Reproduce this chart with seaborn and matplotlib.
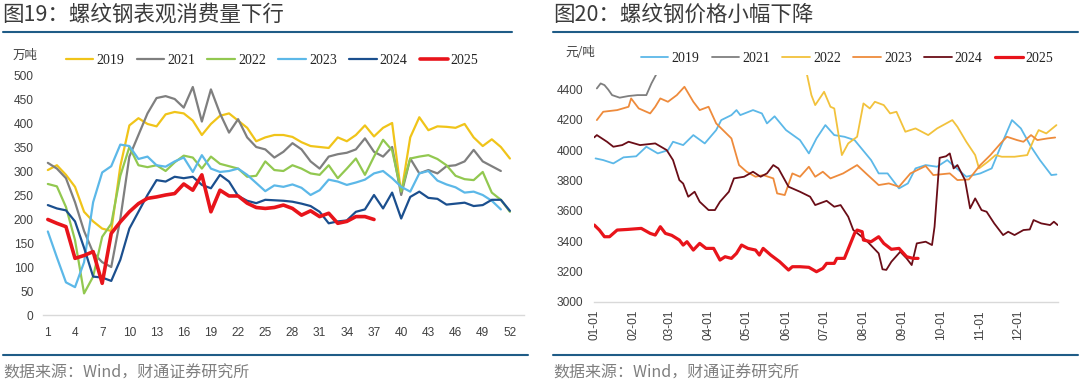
import pandas as pd
import matplotlib
matplotlib.use("Agg")
import matplotlib.pyplot as plt
import matplotlib.dates as mdates
from matplotlib.lines import Line2D
import seaborn as sns

# ---------------- 图19: 螺纹钢表观消费量 (万吨), by week ----------------
weeks = list(range(1, 53))
cons_2019 = [302, 312, 292, 267, 215, 195, 180, 175, 310, 395,
             410, 398, 393, 418, 423, 420, 405, 375, 398, 415,
             420, 405, 390, 362, 370, 375, 375, 371, 360, 352,
             350, 348, 370, 362, 375, 395, 372, 390, 400, 253,
             370, 412, 385, 393, 392, 390, 398, 370, 352, 366,
             350, 326]
cons_2021 = [317, 305, 285, 235, 175, 130, 110, 100, 200, 330,
             375, 420, 452, 456, 450, 432, 475, 403, 470, 420,
             380, 408, 370, 350, 345, 328, 340, 358, 345, 320,
             305, 330, 335, 338, 345, 368, 340, 330, 350, 250,
             326, 295, 302, 295, 310, 312, 320, 344, 320, 310,
             300]
cons_2022 = [273, 268, 225, 156, 45, 80, 163, 190, 290, 350,
             312, 308, 312, 300, 318, 332, 328, 305, 330, 315,
             310, 305, 288, 290, 320, 302, 300, 312, 305, 295,
             292, 312, 285, 305, 326, 292, 330, 365, 343, 257,
             326, 330, 333, 325, 312, 290, 283, 281, 298, 255,
             240, 215]
cons_2023 = [174, 120, 68, 58, 110, 235, 297, 310, 355, 352,
             325, 330, 312, 309, 320, 328, 298, 333, 305, 298,
             300, 305, 292, 275, 258, 270, 267, 272, 265, 250,
             260, 282, 278, 271, 276, 282, 295, 300, 285, 267,
             257, 295, 300, 280, 272, 266, 255, 257, 250, 238,
             220]
cons_2024 = [229, 222, 218, 195, 140, 80, 78, 71, 115, 180,
             215, 250, 281, 278, 288, 285, 288, 271, 264, 292,
             278, 248, 238, 233, 240, 239, 238, 236, 232, 227,
             215, 191, 195, 197, 215, 220, 250, 222, 255, 201,
             246, 257, 244, 242, 230, 232, 234, 227, 229, 240,
             240, 217]
cons_2025 = [199, 191, 184, 118, 124, 132, 66, 170, 194, 215,
             232, 243, 246, 250, 253, 273, 260, 292, 215, 260,
             248, 248, 233, 224, 222, 224, 229, 222, 208, 217,
             205, 212, 191, 195, 205, 205, 199]

# ---------------- 图20: 螺纹钢价格 (元/吨), day of year ----------------
days_2019 = [1, 7, 15, 23, 33, 41, 50, 58, 62, 70,
             78, 87, 96, 100, 108, 112, 115, 125, 132, 136,
             142, 151, 162, 169, 175, 182, 189, 197, 205, 218,
             224, 231, 240, 247, 253, 261, 270, 278, 284, 293,
             304, 313, 320, 329, 336, 344, 351, 360, 364]
price_2019 = [3946, 3935, 3913, 3953, 3960, 4023, 3979, 4000, 4056, 4034,
              4100, 4045, 4133, 4199, 4232, 4265, 4232, 4265, 4243, 4177,
              4224, 4133, 4067, 3979, 4078, 4166, 4100, 4089, 4067, 3935,
              3847, 3847, 3748, 3781, 3880, 3902, 3891, 3935, 3891, 3825,
              3847, 3880, 4023, 4199, 4144, 4023, 3935, 3836, 3840]
days_2021 = [2, 5, 8, 11, 14, 20, 27, 34, 41, 45, 50]
price_2021 = [4408, 4441, 4430, 4400, 4364, 4347, 4358, 4364, 4364, 4441, 4520]
days_2022 = [167, 171, 174, 181, 186, 189, 195, 200, 207, 212,
             217, 221, 228, 233, 238, 245, 253, 263, 270, 282,
             286, 293, 300, 303, 310, 316, 321, 331, 341, 346,
             350, 356, 364]
price_2022 = [4520, 4364, 4298, 4386, 4287, 4276, 3968, 4045, 4089, 4309,
              4276, 4320, 4298, 4243, 4254, 4122, 4144, 4100, 4144, 4199,
              4155, 4056, 3968, 3880, 3924, 3968, 3957, 3957, 3968, 4067,
              4133, 4111, 4166]
days_2023 = [2, 7, 18, 27, 29, 35, 44, 48, 52, 58,
             65, 71, 78, 83, 90, 96, 104, 108, 114, 120,
             127, 133, 141, 144, 150, 156, 162, 169, 174, 180,
             186, 196, 207, 214, 224, 232, 240, 249, 261, 267,
             280, 286, 295, 304, 312, 320, 325, 333, 338, 344,
             349, 357, 363]
price_2023 = [4199, 4254, 4265, 4287, 4342, 4276, 4243, 4287, 4342, 4320,
              4364, 4419, 4320, 4265, 4287, 4177, 4111, 4078, 3902, 3858,
              3825, 3836, 3814, 3715, 3704, 3847, 3825, 3891, 3825, 3858,
              3814, 3847, 3902, 3847, 3770, 3781, 3759, 3847, 3896, 3836,
              3847, 3803, 3807, 3902, 3968, 4045, 4089, 4067, 4056, 4100,
              4067, 4078, 4084]
days_2024 = [0, 2, 6, 10, 15, 22, 27, 36, 48, 57,
             62, 67, 70, 74, 79, 83, 90, 95, 99, 106,
             110, 118, 125, 131, 136, 141, 145, 153, 162, 170,
             174, 183, 189, 194, 200, 204, 214, 224, 227, 230,
             234, 241, 246, 250, 254, 261, 266, 268, 272, 277,
             280, 283, 286, 292, 296, 300, 305, 309, 315, 322,
             326, 331, 338, 343, 346, 352, 359, 362, 365]
price_2024 = [4085, 4100, 4078, 4056, 4023, 4034, 4056, 4034, 4045, 4001,
              3935, 3803, 3780, 3693, 3726, 3660, 3605, 3605, 3660, 3726,
              3814, 3825, 3858, 3825, 3847, 3902, 3880, 3759, 3726, 3693,
              3638, 3666, 3627, 3638, 3561, 3473, 3407, 3319, 3214, 3210,
              3264, 3330, 3286, 3242, 3385, 3396, 3374, 3495, 3950, 3960,
              3979, 3880, 3902, 3803, 3616, 3682, 3605, 3594, 3517, 3440,
              3462, 3440, 3473, 3477, 3539, 3517, 3506, 3528, 3506]
days_2025 = [0, 4, 8, 12, 18, 26, 37, 44, 48, 52,
             56, 61, 67, 70, 73, 78, 83, 88, 94, 99,
             103, 108, 112, 116, 121, 127, 130, 133, 139, 146,
             153, 156, 162, 169, 175, 180, 183, 189, 191, 197,
             205, 207, 211, 212, 218, 224, 228, 234, 240, 246,
             251, 255]
price_2025 = [3506, 3473, 3429, 3429, 3473, 3477, 3484, 3451, 3440, 3495,
              3451, 3438, 3407, 3374, 3396, 3341, 3385, 3352, 3352, 3275,
              3297, 3286, 3319, 3374, 3352, 3341, 3308, 3352, 3308, 3264,
              3209, 3231, 3231, 3227, 3198, 3220, 3253, 3253, 3286, 3286,
              3451, 3473, 3462, 3407, 3396, 3429, 3385, 3346, 3352, 3297,
              3286, 3286]

month_labels = ["01-01", "02-01", "03-01", "04-01", "05-01", "06-01",
                "07-01", "08-01", "09-01", "10-01", "11-01", "12-01"]

sns.set_style("white")
plt.rcParams['font.family'] = ['Liberation Sans', 'Noto Sans CJK SC', 'DejaVu Sans']
CJK = ['Noto Sans CJK SC', 'DejaVu Sans']
SERIF = ['Liberation Serif', 'DejaVu Serif']
TXT = '#404040'
RULE = '#1f5c87'

W, H = 1080, 384
fig = plt.figure(figsize=(10.8, 3.84), dpi=100)


def fx(px):
    return px / W


def fy(py):
    return 1 - py / H


# ---------- left chart ----------
ax1 = fig.add_axes([fx(43.3), fy(315), fx(523.5) - fx(43.3), fy(75) - fy(315)])
left_series = [("2019", cons_2019, '#f0c419', 1.6),
               ("2021", cons_2021, '#7f7f7f', 1.6),
               ("2022", cons_2022, '#92c850', 1.6),
               ("2023", cons_2023, '#5cb8e8', 1.6),
               ("2024", cons_2024, '#1b4f8e', 1.6),
               ("2025", cons_2025, '#e8141b', 2.6)]
for name, vals, col, lw in left_series:
    sns.lineplot(x=weeks[:len(vals)], y=vals, color=col, lw=lw, label=name, ax=ax1)

ax1.set_xlim(0.5, 53.5)
ax1.set_ylim(0, 500)
ax1.set_xticks(list(range(1, 53, 3)))
ax1.set_xticks([k + 0.5 for k in range(0, 52, 3)] + [53.5], minor=True)
ax1.set_yticks(list(range(0, 501, 50)))
ax1.tick_params(axis='x', which='major', length=0, pad=9, labelsize=8.6, labelcolor=TXT)
ax1.tick_params(axis='x', which='minor', length=3, width=0.8, color='#d9d9d9', direction='out')
ax1.tick_params(axis='y', length=0, pad=7, labelsize=8.6, labelcolor=TXT)
ax1.set_xlabel("")
ax1.set_ylabel("")

# ---------- right chart ----------
base = pd.Timestamp("2025-01-01")
ax2 = fig.add_axes([fx(594.3), fy(301.7), fx(1057.7) - fx(594.3), fy(74.5) - fy(301.7)])
right_series = [("2019", days_2019, price_2019, '#5cb8e8', 1.3),
                ("2021", days_2021, price_2021, '#7f7f7f', 1.3),
                ("2022", days_2022, price_2022, '#f2c23c', 1.3),
                ("2023", days_2023, price_2023, '#ee8b3c', 1.3),
                ("2024", days_2024, price_2024, '#6a0d17', 1.3),
                ("2025", days_2025, price_2025, '#e8141b', 2.3)]
for name, d, vals, col, lw in right_series:
    dates = base + pd.to_timedelta(d, unit='D')
    sns.lineplot(x=dates, y=vals, color=col, lw=lw, label=name, ax=ax2)

ax2.set_xlim(base, pd.Timestamp("2026-01-01"))
ax2.set_ylim(3000, 4500)
month_starts = list(pd.date_range("2025-01-01", "2025-12-01", freq="MS")) + [pd.Timestamp("2026-01-01")]
ax2.set_xticks(month_starts)
ax2.set_xticklabels(month_labels + [""], rotation=90)
ax2.set_yticks(list(range(3000, 4401, 200)))
ax2.tick_params(axis='x', length=3, width=0.8, color='#d9d9d9', pad=3, labelsize=8.6, labelcolor=TXT)
ax2.tick_params(axis='y', length=0, pad=8, labelsize=8.6, labelcolor=TXT)
ax2.set_xlabel("")
ax2.set_ylabel("")

for ax in (ax1, ax2):
    for s in ("top", "right", "left"):
        ax.spines[s].set_visible(False)
    ax.spines["bottom"].set_color('#d9d9d9')
    ax.spines["bottom"].set_linewidth(1.0)
    ax.grid(False)

# legends
ax1.legend(loc='center', bbox_to_anchor=(fx(272), fy(60)), bbox_transform=fig.transFigure,
           ncol=6, frameon=False, prop={'family': SERIF, 'size': 10},
           handlelength=2.0, handletextpad=0.2, columnspacing=0.9, labelcolor='#222222')
ax2.legend(loc='center', bbox_to_anchor=(fx(847), fy(58)), bbox_transform=fig.transFigure,
           ncol=6, frameon=False, prop={'family': SERIF, 'size': 10},
           handlelength=2.0, handletextpad=0.2, columnspacing=0.9, labelcolor='#222222')

# units
fig.text(fx(13), fy(55), "万吨", family=CJK, fontsize=9, color=TXT, va='center', ha='left')
fig.text(fx(565), fy(53), "元/吨", family=CJK, fontsize=9, color=TXT, va='center', ha='left')

# titles
fig.text(fx(2), fy(15), "图19：螺纹钢表观消费量下行", family=CJK, fontsize=15.5,
         color='#3b3b3b', va='center', ha='left')
fig.text(fx(553), fy(15), "图20：螺纹钢价格小幅下降", family=CJK, fontsize=15.5,
         color='#3b3b3b', va='center', ha='left')

# footers
fig.text(fx(3), fy(373), "数据来源：Wind，财通证券研究所", family=CJK, fontsize=11.5,
         color='#7f7f7f', va='center', ha='left')
fig.text(fx(553), fy(373), "数据来源：Wind，财通证券研究所", family=CJK, fontsize=11.5,
         color='#7f7f7f', va='center', ha='left')

# rules
for x0, x1, y in [(3, 512, 32), (553, 1078, 32), (3, 528, 355), (553, 1078, 355)]:
    fig.add_artist(Line2D([fx(x0), fx(x1)], [fy(y), fy(y)], transform=fig.transFigure,
                          color=RULE, lw=1.5))

fig.savefig("out.png", dpi=100)
